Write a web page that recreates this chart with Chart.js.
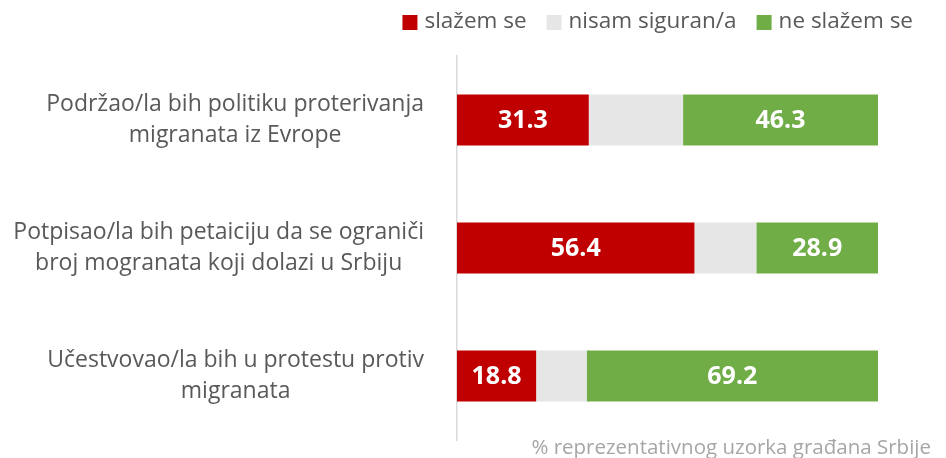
<!DOCTYPE html>
<html>
<head>
<meta charset="utf-8">
<script src="https://cdn.jsdelivr.net/npm/chart.js@4.4.0/dist/chart.umd.min.js"></script>
<style>
  body { margin: 0; background: #fff; }
  #wrap { width: 946px; height: 458px; }
</style>
</head>
<body>
<div id="wrap"><canvas id="barChart" width="946" height="458"></canvas></div>
<script>
var categories = [
    ["Podržao/la bih politiku proterivanja", "migranata iz Evrope"],
    ["Potpisao/la bih petaiciju da se ograniči", "broj mogranata koji dolazi u Srbiju"],
    ["Učestvovao/la bih u protestu protiv", "migranata"]
];
var seriesNames = ["slažem se", "nisam siguran/a", "ne slažem se"];
var agree = [31.3, 56.4, 18.8];
var unsure = [22.4, 14.7, 12.0];
var disagree = [46.3, 28.9, 69.2];
var footnote = "% reprezentativnog uzorka građana Srbije";

var colors = ["#c00000", "#e7e6e6", "#70ad47"];
var textGrey = "#595959";
var fontName = "'Open Sans', sans-serif";

// labels, value labels, legend and the note are drawn by hand
var textPlugin = {
    id: 'textPlugin',
    afterDraw: function (chart) {
        var ctx = chart.ctx;
        var yScale = chart.scales.y;
        ctx.save();

        // category labels: each block centered in itself, right edge at 424
        ctx.font = "23px " + fontName;
        ctx.fillStyle = textGrey;
        ctx.textBaseline = 'middle';
        ctx.textAlign = 'center';
        var lineH = 31.5;
        categories.forEach(function (lines, i) {
            var w = 0;
            lines.forEach(function (l) { w = Math.max(w, ctx.measureText(l).width); });
            var cx = 424 - w / 2;
            var cy = yScale.getPixelForValue(i);
            var y0 = cy - (lines.length - 1) * lineH / 2;
            lines.forEach(function (l, k) { ctx.fillText(l, cx, y0 + k * lineH); });
        });

        // values inside red and green bars
        ctx.font = "bold 25px " + fontName;
        ctx.fillStyle = "#ffffff";
        [0, 2].forEach(function (di) {
            var meta = chart.getDatasetMeta(di);
            meta.data.forEach(function (el, i) {
                var v = chart.data.datasets[di].data[i];
                ctx.fillText(v.toFixed(1), (el.x + el.base) / 2, el.y + 1);
            });
        });

        // legend, right aligned
        ctx.font = "22.5px " + fontName;
        ctx.textAlign = 'left';
        var box = 15, gapBox = 7, gapItem = 20;
        var x = 913;
        var items = [];
        for (var j = seriesNames.length - 1; j >= 0; j--) {
            var tw = ctx.measureText(seriesNames[j]).width;
            x -= tw;
            var it = { t: seriesNames[j], x: x, c: colors[j] };
            x -= gapBox + box;
            it.bx = x;
            items.push(it);
            x -= gapItem;
        }
        items.forEach(function (it) {
            ctx.fillStyle = it.c;
            ctx.fillRect(it.bx, 15, box, box);
            ctx.fillStyle = textGrey;
            ctx.fillText(it.t, it.x, 22);
        });

        // source note
        ctx.font = "20.5px " + fontName;
        ctx.fillStyle = "#a6a6a6";
        ctx.textAlign = 'right';
        ctx.fillText(footnote, 931, 448);
        ctx.restore();
    }
};

var ctxB = document.getElementById("barChart").getContext('2d');
var myBarChart = new Chart(ctxB, {
    type: 'bar',
    data: {
        labels: categories,
        datasets: [
            { label: seriesNames[0], data: agree, backgroundColor: colors[0] },
            { label: seriesNames[1], data: unsure, backgroundColor: colors[1] },
            { label: seriesNames[2], data: disagree, backgroundColor: colors[2] }
        ]
    },
    options: {
        indexAxis: 'y',
        responsive: false,
        animation: false,
        layout: { padding: { left: 457, right: 68, top: 56, bottom: 18 } },
        datasets: { bar: { categoryPercentage: 0.4, barPercentage: 1, borderWidth: 0 } },
        plugins: { legend: { display: false }, tooltip: { enabled: false } },
        scales: {
            x: { stacked: true, min: 0, max: 100, display: false },
            y: {
                stacked: true,
                grid: { display: false, drawTicks: false },
                border: { display: true, color: '#d9d9d9', width: 1.5 },
                ticks: { display: false },
                afterFit: function (s) { s.width = 0; }
            }
        }
    },
    plugins: [textPlugin]
});
</script>
</body>
</html>
